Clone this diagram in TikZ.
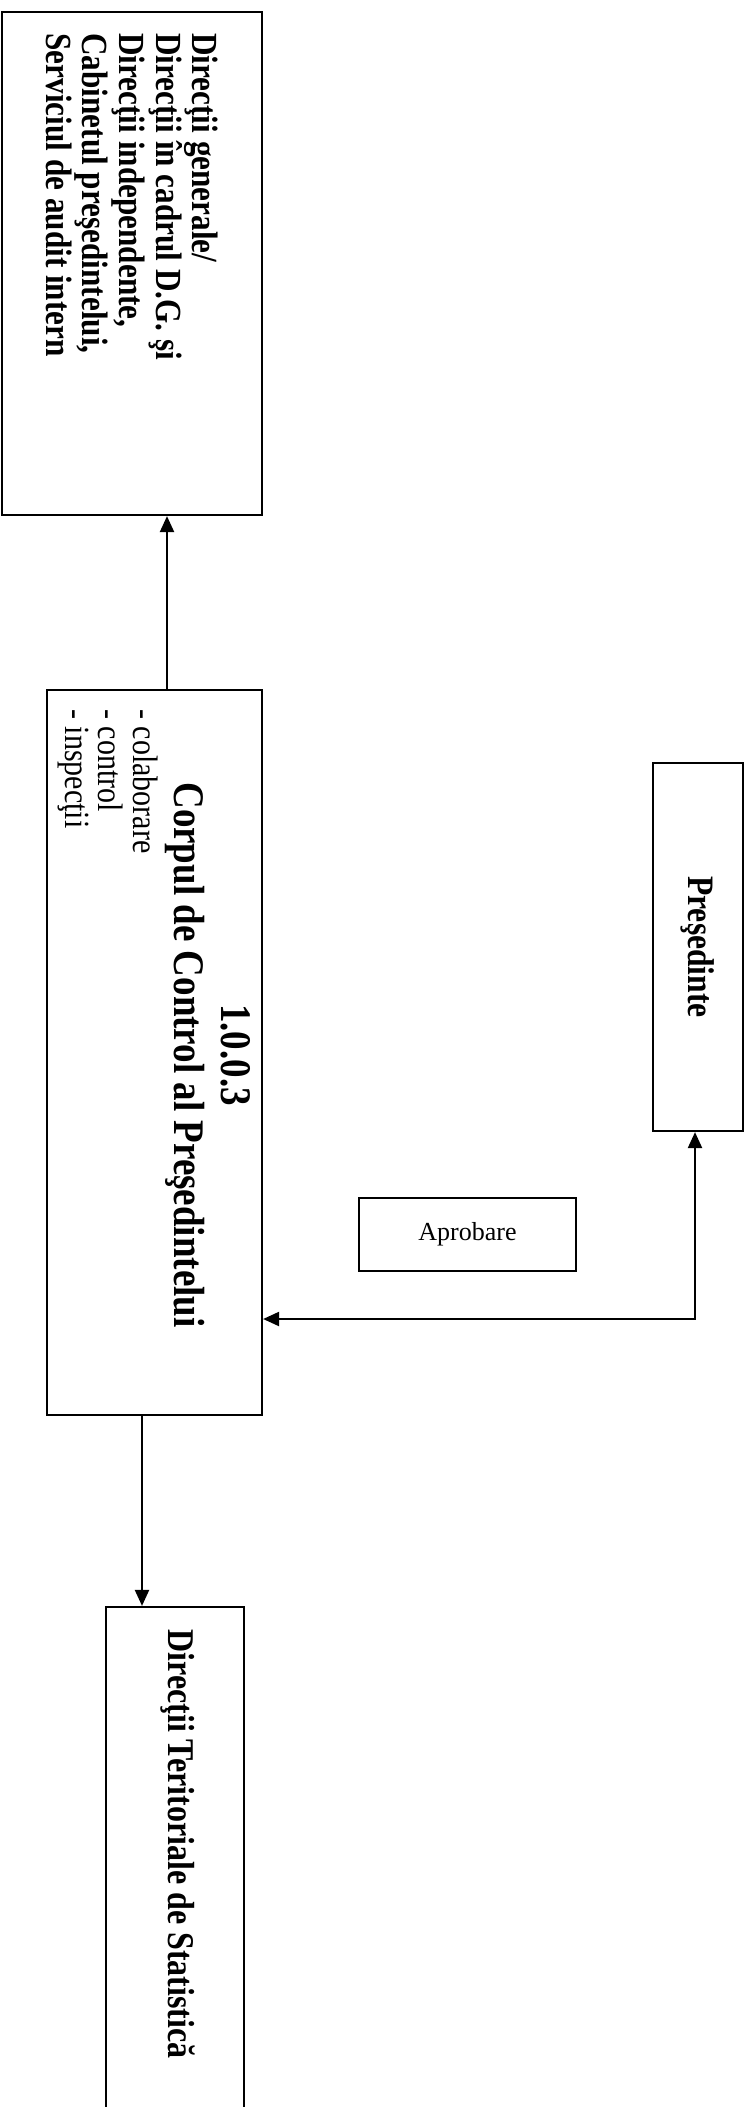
\documentclass[tikz,border=0pt]{standalone}
\usepackage{graphicx}
\usepackage{fontspec}
\setmainfont{Liberation Serif}
\usetikzlibrary{arrows.meta}
% glyphs of the printed chart are slightly taller than wide
\newcommand{\tallbox}[1]{\scalebox{1}[1.18]{#1}}
\begin{document}
\begin{tikzpicture}[x=0.5pt,y=-0.5pt,
  box/.style={draw, line width=1.1pt, inner sep=0pt},
  link/.style={line width=1.1pt, -{Triangle[length=8pt,width=7pt]}},
  twolink/.style={line width=1.1pt, {Triangle[length=8pt,width=7pt]}-{Triangle[length=8pt,width=7pt]}},
  vtext/.style={rotate=-90, inner sep=0pt}]
\useasboundingbox (0,0) rectangle (747,2107);
\fill[white] (0,0) rectangle (747,2107);

% boxes
\node[box, minimum width=130pt, minimum height=251.5pt] (dg) at (132,263.5) {};
\node[box, minimum width=107.5pt, minimum height=362.5pt] (cc) at (154.5,1052.5) {};
\node[box, minimum width=69pt, minimum height=254pt] (dt) at (175,1861) {};
\node[box, minimum width=45pt, minimum height=184pt] (pres) at (698,947) {};
\node[box, minimum width=108.5pt, minimum height=36.5pt] (apr) at (467.5,1234.5) {};

% texts
\node[vtext, anchor=north west] (dgtxt) at (219,33)
  {\tallbox{\bfseries\fontsize{15.6}{15.5}\selectfont
   \begin{tabular}{@{}l@{}}Direcţii generale/\\Direcţii în cadrul D.G. şi\\Direcţii independente,\\Cabinetul preşedintelui,\\Serviciul de audit intern\end{tabular}}};
\node[vtext] (cctitle) at (207,1055)
  {\tallbox{\bfseries\fontsize{18.5}{19.9}\selectfont
   \begin{tabular}{@{}c@{}}1.0.0.3\\Corpul de Control al Preşedintelui\end{tabular}}};
\node[vtext, anchor=north west] (cclist) at (158,709)
  {\tallbox{\fontsize{15}{14}\selectfont
   \begin{tabular}{@{}l@{}}- colaborare\\- control\\- inspecţii\end{tabular}}};
\node[vtext] (prestxt) at (pres) {\tallbox{\bfseries\fontsize{15.8}{18}\selectfont Preşedinte}};
\node[font=\fontsize{13}{15}\selectfont] (aprtxt) at (apr) {Aprobare};
\node[vtext, anchor=west] (dttxt) at (178,1629)
  {\tallbox{\bfseries\fontsize{16}{18}\selectfont Direcţii Teritoriale de Statistică}};

% connectors
\draw[link] ([xshift=6.25pt]cc.north) -- ([xshift=6.25pt]cc.north |- dg.south);
\draw[link] ([xshift=-6.25pt]cc.south) -- ([xshift=-6.25pt]cc.south |- dt.north);
\draw[twolink] ([yshift=-133.25pt]cc.east) -| ([xshift=-1.5pt]pres.south);
\end{tikzpicture}
\end{document}
